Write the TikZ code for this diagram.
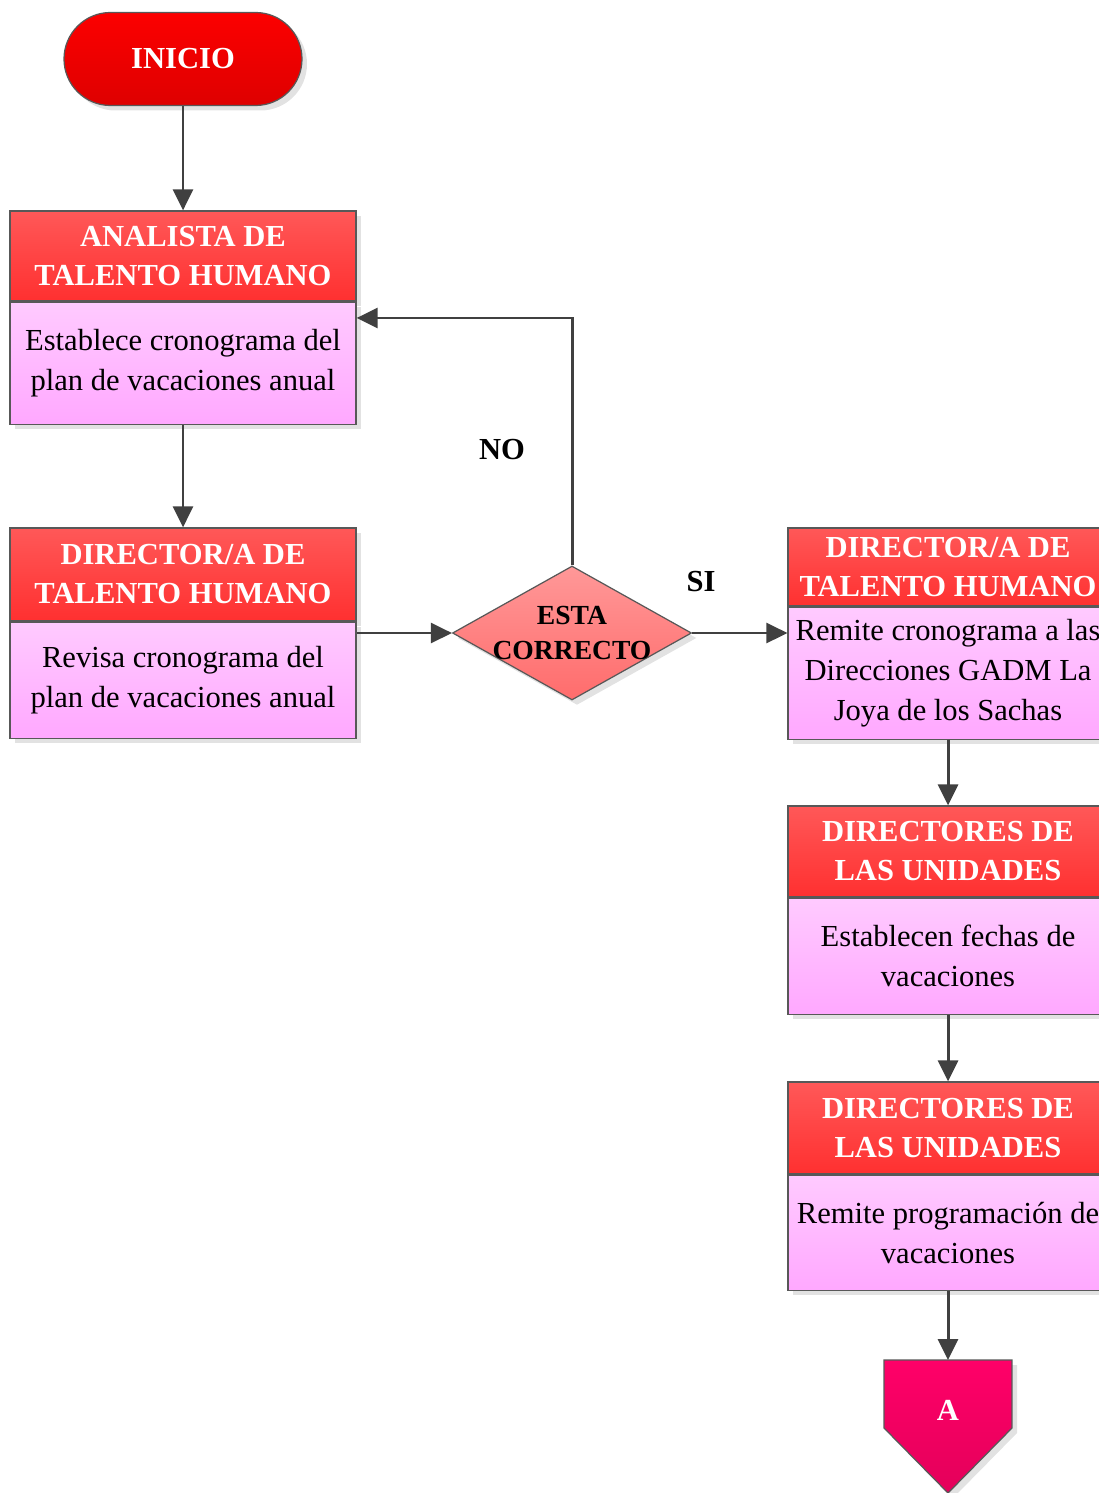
\documentclass[tikz,border=0pt]{standalone}
\usepackage{fontspec}
\setmainfont{Liberation Serif}
\usepackage{tikz}
\usetikzlibrary{arrows.meta, positioning, shapes.geometric, shadows}

\definecolor{rojoA}{RGB}{255,88,88}
\definecolor{rojoB}{RGB}{255,48,48}
\definecolor{rosaA}{RGB}{255,202,255}
\definecolor{rosaB}{RGB}{255,168,255}
\definecolor{inicioA}{RGB}{252,0,0}
\definecolor{inicioB}{RGB}{222,0,0}
\definecolor{decA}{RGB}{255,152,152}
\definecolor{decB}{RGB}{255,108,108}
\definecolor{pagA}{RGB}{255,0,104}
\definecolor{pagB}{RGB}{228,0,90}
\definecolor{borde}{RGB}{88,88,88}
\definecolor{linea}{RGB}{64,64,64}
\definecolor{grisSombra}{RGB}{226,226,226}

\tikzset{
	sombra/.style={drop shadow={shadow xshift=0.1cm, shadow yshift=-0.1cm, fill=grisSombra, opacity=1}},
	titulo/.style={rectangle, draw=borde, line width=0.7pt, top color=rojoA, bottom color=rojoB,
		text=white, font=\fontsize{17.4}{22.2}\selectfont\bfseries, align=center, inner sep=0pt, sombra},
	cuerpo/.style={rectangle, draw=borde, line width=0.7pt, top color=rosaA, bottom color=rosaB,
		font=\fontsize{17.4}{22.7}\selectfont, align=center, inner sep=0pt, sombra},
	inicio/.style={rectangle, rounded corners=0.93cm, draw=borde, line width=0.7pt, top color=inicioA,
		bottom color=inicioB, text=white, font=\fontsize{17.4}{22}\selectfont\bfseries,
		minimum width=4.76cm, minimum height=1.86cm, sombra},
	decision/.style={diamond, draw=borde, line width=0.7pt, top color=decA, bottom color=decB,
		minimum width=4.78cm, minimum height=2.68cm, inner sep=0pt, sombra},
	etiqueta/.style={font=\fontsize{17.4}{20}\selectfont\bfseries},
	flecha/.style={draw=linea, line width=1.7pt, -{Triangle[length=0.42cm, width=0.4cm]}},
}

\begin{document}
\begin{tikzpicture}
	\useasboundingbox (0,0) rectangle (21.98,-29.86);

	\node[inicio] (ini) at (3.66,-1.18) {INICIO};

	% columna izquierda
	\node[titulo, minimum width=6.92cm, minimum height=1.8cm] (hd1) at (3.66,-5.12) {ANALISTA DE\\TALENTO HUMANO};
	\node[cuerpo, minimum width=6.92cm, minimum height=2.44cm, below=0pt of hd1] (bd1) {Establece cronograma del\\plan de vacaciones anual};
	\node[titulo, minimum width=6.92cm, minimum height=1.86cm] (hd2) at (3.66,-11.49) {DIRECTOR/A DE\\TALENTO HUMANO};
	\node[cuerpo, minimum width=6.92cm, minimum height=2.32cm, below=0pt of hd2] (bd2) {Revisa cronograma del\\plan de vacaciones anual};

	% decision
	\node[decision, label={[etiqueta, font=\fontsize{15.7}{19.9}\selectfont\bfseries, align=center]center:ESTA\\CORRECTO}] (dec) at (11.44,-12.66) {};
	\coordinate (ret) at (11.44,-6.36);
	\node[etiqueta] (no) at (10.04,-9.0) {NO};
	\node[etiqueta] (si) at (14.02,-11.64) {SI};

	% columna derecha
	\node[titulo, minimum width=6.4cm, minimum height=1.56cm] (hd3) at (18.96,-11.34) {DIRECTOR/A DE\\TALENTO HUMANO};
	\node[cuerpo, minimum width=6.4cm, minimum height=2.64cm, below=0pt of hd3] (bd3) {Remite cronograma a las\\Direcciones GADM La\\Joya de los Sachas};
	\node[titulo, minimum width=6.4cm, minimum height=1.82cm] (hd4) at (18.96,-17.03) {DIRECTORES DE\\LAS UNIDADES};
	\node[cuerpo, minimum width=6.4cm, minimum height=2.32cm, below=0pt of hd4] (bd4) {Establecen fechas de\\vacaciones};
	\node[titulo, minimum width=6.4cm, minimum height=1.84cm] (hd5) at (18.96,-22.56) {DIRECTORES DE\\LAS UNIDADES};
	\node[cuerpo, minimum width=6.4cm, minimum height=2.3cm, below=0pt of hd5] (bd5) {Remite programación de\\vacaciones};

	% conector fuera de pagina
	\coordinate (pag) at (18.96,-27.2);
	\path[draw=borde, line width=0.7pt, top color=pagA, bottom color=pagB, sombra]
		(pag) ++(-1.28,0) -- ++(2.56,0) -- ++(0,-1.36) -- ++(-1.28,-1.3) -- ++(-1.28,1.3) -- cycle;
	\node[etiqueta, text=white] (conA) at (18.96,-28.2) {A};

	% flechas
	\draw[flecha] (ini.south) -- (hd1.north);
	\draw[flecha] (bd1.south) -- (hd2.north);
	\draw[flecha] (dec.west -| bd2.east) -- (dec.west);
	\draw[flecha] (dec.north) -- (ret) -- (ret -| bd1.east);
	\draw[flecha] (dec.east) -- (dec.east -| bd3.west);
	\draw[flecha] (bd3.south) -- (hd4.north);
	\draw[flecha] (bd4.south) -- (hd5.north);
	\draw[flecha] (bd5.south) -- (pag);
\end{tikzpicture}
\end{document}
